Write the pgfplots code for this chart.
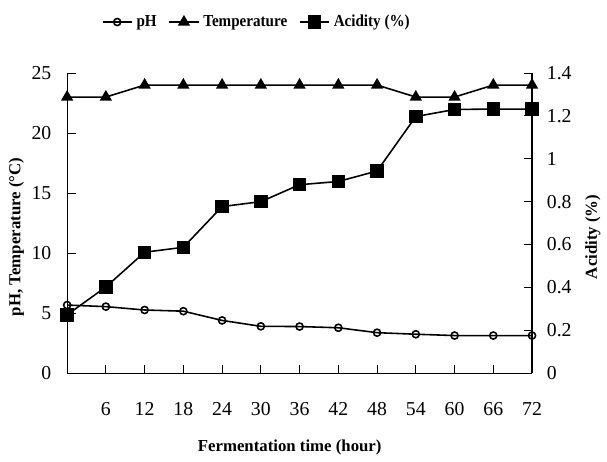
\documentclass[border=0pt]{standalone}
\usepackage{pgfplots}
\pgfplotsset{compat=1.18}
\usepackage{fontspec}
\setmainfont{Liberation Serif}

\begin{document}
\begin{tikzpicture}
\pgfplotsset{
    every axis/.append style={
        scale only axis,
        width=235.5pt,
        height=152pt,
        xmin=0, xmax=72,
        tick align=inside,
        tick style={black, line width=0.5pt},
        axis line style={line width=0.6pt},
        tick label style={font=\fontsize{10}{11}\selectfont},
        label style={font=\bfseries\fontsize{8.5}{10}\selectfont},
        /pgf/number format/assume math mode=true,
        clip=false,
    },
}
\begin{axis}[
    axis x line*=bottom,
    axis y line*=left,
    ymin=0, ymax=25,
    ytick={0,5,...,25},
    xtick={6,12,...,72},
    xticklabel style={yshift=-11.5pt},
    yticklabel style={xshift=-4.5pt},
    xlabel={Fermentation time (hour)},
    xlabel style={yshift=-5pt, xshift=-5pt},
    ylabel={pH, Temperature (°C)},
    ylabel style={yshift=-3pt, xshift=-7pt},
    legend columns=3,
    legend style={
        at={(0.41,1.17)}, anchor=center, draw=none, fill=none,
        font=\bfseries\fontsize{8.5}{10}\selectfont\addfontfeature{FakeStretch=0.9},
        /tikz/every even column/.append style={column sep=4pt},
    },
    legend image code/.code={
        \draw[#1] (0cm,0cm) -- (0.52cm,0cm);
        \draw[#1, only marks] plot coordinates {(0.26cm,0cm)};
    },
]
\addplot[black, line width=0.8pt, mark=o, mark size=1.8pt,
    mark options={fill=white, line width=0.8pt}] coordinates {
    (0,5.67) (6,5.54) (12,5.26) (18,5.16) (24,4.39) (30,3.90) (36,3.88)
    (42,3.78) (48,3.37) (54,3.24) (60,3.13) (66,3.13) (72,3.13)
};
\addlegendentry{pH}
\addplot[black, line width=0.8pt, mark=triangle*, mark size=2.8pt,
    mark options={fill=black}] coordinates {
    (0,23) (6,23) (12,24) (18,24) (24,24) (30,24) (36,24)
    (42,24) (48,24) (54,23) (60,23) (66,24) (72,24)
};
\addlegendentry{Temperature}
\addlegendimage{black, line width=0.8pt, mark=square*, mark size=3pt}
\addlegendentry{Acidity (\%)}
% page margins as in the reference
\path (rel axis cs:0,0) -- ++(-34pt,-40pt);
\path (rel axis cs:1,1) -- ++(34pt,37pt);
\end{axis}
\begin{axis}[
    axis x line=none,
    axis y line*=right,
    ymin=0, ymax=1.4,
    ytick={0,0.2,...,1.4},
    yticklabel style={xshift=4pt},
    ylabel={Acidity (\%)},
    ylabel style={xshift=-7pt},
]
\addplot[black, line width=0.8pt, mark=square*, mark size=3pt] coordinates {
    (0,0.272) (6,0.402) (12,0.564) (18,0.587) (24,0.777) (30,0.800) (36,0.879)
    (42,0.894) (48,0.943) (54,1.197) (60,1.230) (66,1.232) (72,1.232)
};
\end{axis}
\end{tikzpicture}
\end{document}
